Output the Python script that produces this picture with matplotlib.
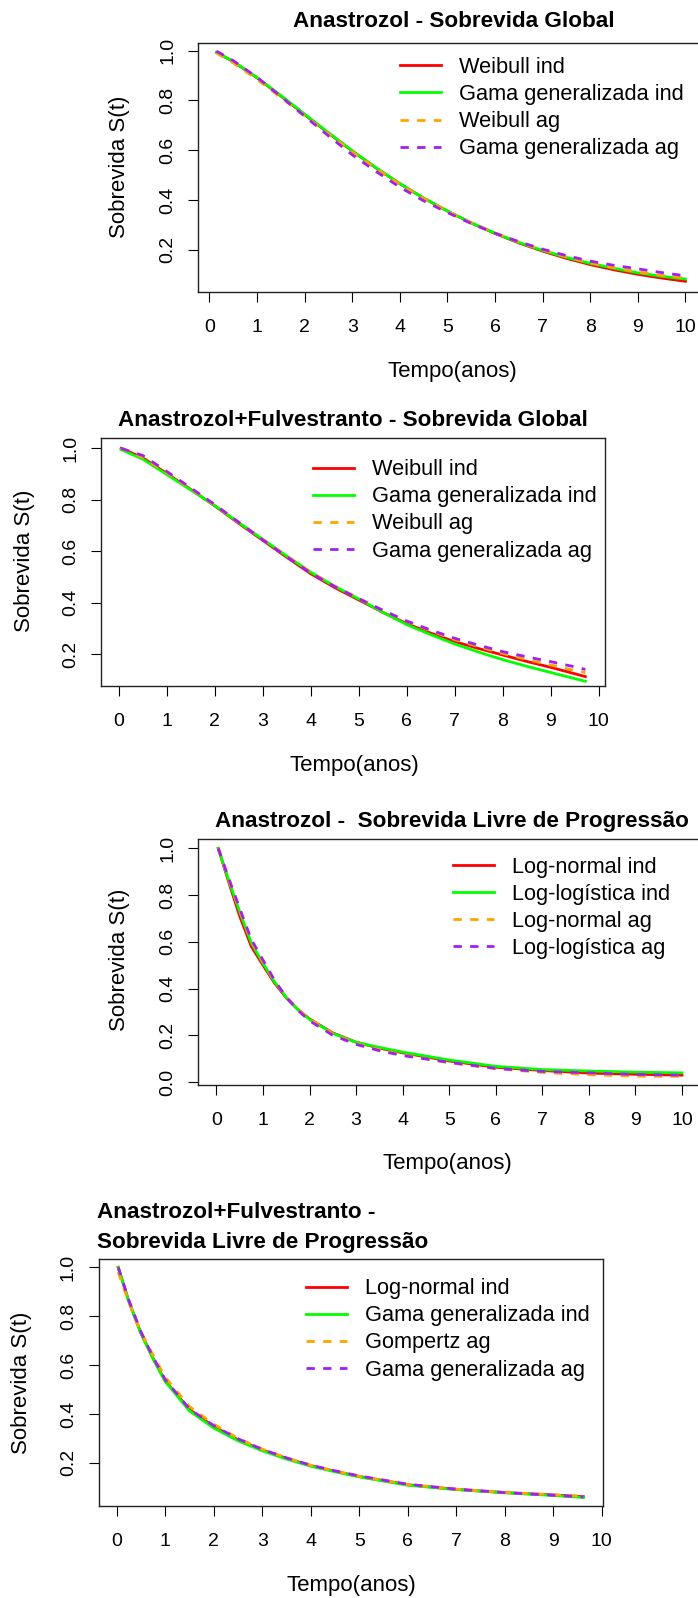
import matplotlib
matplotlib.use("Agg")
import matplotlib.pyplot as plt

plt.rcParams['font.family'] = ['Liberation Sans', 'DejaVu Sans']

# tamanho da figura em pixels
W, H = 698, 1598

# ---- Anastrozol - Sobrevida Global ----
t1 = [0.15, 0.5, 1.0, 1.5, 2.0, 2.5, 3.0, 3.5, 4.0, 4.5, 5.0, 5.5, 6.0, 6.5, 7.0, 7.5, 8.0, 8.5, 9.0, 9.5, 10.0]
weib_ind1 = [0.993, 0.956, 0.891, 0.818, 0.743, 0.669, 0.597, 0.529, 0.466, 0.408, 0.356, 0.308, 0.266, 0.228, 0.195, 0.166, 0.141, 0.120, 0.102, 0.087, 0.074]
gg_ind1 = [0.993, 0.957, 0.892, 0.820, 0.745, 0.671, 0.598, 0.530, 0.466, 0.408, 0.356, 0.309, 0.267, 0.230, 0.198, 0.170, 0.146, 0.126, 0.108, 0.094, 0.083]
weib_ag1 = [0.990, 0.951, 0.885, 0.812, 0.738, 0.665, 0.593, 0.526, 0.463, 0.406, 0.355, 0.309, 0.268, 0.232, 0.200, 0.172, 0.148, 0.128, 0.112, 0.098, 0.087]
gg_ag1 = [0.998, 0.960, 0.893, 0.816, 0.737, 0.658, 0.582, 0.515, 0.452, 0.397, 0.350, 0.306, 0.267, 0.233, 0.203, 0.177, 0.155, 0.138, 0.124, 0.109, 0.096]

# ---- Anastrozol+Fulvestranto - Sobrevida Global ----
t2 = [0.05, 0.5, 1.0, 1.5, 2.0, 2.5, 3.0, 3.5, 4.0, 4.5, 5.0, 5.5, 6.0, 6.5, 7.0, 7.5, 8.0, 8.5, 9.0, 9.5, 9.72]
weib_ind2 = [1.0, 0.963, 0.902, 0.840, 0.776, 0.708, 0.642, 0.576, 0.512, 0.458, 0.410, 0.362, 0.318, 0.281, 0.248, 0.221, 0.196, 0.171, 0.148, 0.123, 0.112]
gg_ind2 = [0.995, 0.958, 0.898, 0.838, 0.777, 0.711, 0.646, 0.581, 0.518, 0.463, 0.414, 0.362, 0.314, 0.275, 0.239, 0.207, 0.178, 0.152, 0.128, 0.104, 0.094]
weib_ag2 = [1.0, 0.965, 0.905, 0.843, 0.779, 0.712, 0.646, 0.581, 0.518, 0.464, 0.417, 0.370, 0.327, 0.290, 0.256, 0.228, 0.202, 0.179, 0.157, 0.136, 0.128]
gg_ag2 = [1.0, 0.972, 0.910, 0.846, 0.781, 0.712, 0.644, 0.578, 0.515, 0.462, 0.415, 0.370, 0.328, 0.293, 0.261, 0.234, 0.209, 0.189, 0.170, 0.150, 0.140]

# ---- Anastrozol - Sobrevida Livre de Progressao ----
t3 = [0.04, 0.25, 0.5, 0.75, 1.0, 1.25, 1.5, 1.75, 2.0, 2.5, 3.0, 3.5, 4.0, 5.0, 6.0, 7.0, 8.0, 9.0, 10.0]
lnorm_ind3 = [1.0, 0.865, 0.710, 0.580, 0.500, 0.423, 0.360, 0.310, 0.270, 0.210, 0.170, 0.145, 0.125, 0.090, 0.063, 0.049, 0.038, 0.033, 0.029]
llog_ind3 = [1.0, 0.872, 0.728, 0.595, 0.508, 0.428, 0.362, 0.310, 0.268, 0.208, 0.170, 0.148, 0.128, 0.094, 0.067, 0.053, 0.047, 0.042, 0.039]
lnorm_ag3 = [1.0, 0.876, 0.735, 0.603, 0.515, 0.432, 0.365, 0.311, 0.270, 0.205, 0.164, 0.138, 0.116, 0.082, 0.057, 0.041, 0.031, 0.025, 0.024]
llog_ag3 = [1.0, 0.880, 0.743, 0.610, 0.522, 0.435, 0.363, 0.307, 0.262, 0.200, 0.161, 0.134, 0.113, 0.084, 0.058, 0.045, 0.039, 0.032, 0.029]

# ---- Anastrozol+Fulvestranto - Sobrevida Livre de Progressao ----
t4 = [0.03, 0.25, 0.5, 0.75, 1.0, 1.5, 2.0, 2.5, 3.0, 3.5, 4.0, 4.5, 5.0, 6.0, 7.0, 8.0, 9.0, 9.62]
lnorm_ind4 = [1.0, 0.860, 0.730, 0.627, 0.535, 0.418, 0.348, 0.294, 0.252, 0.218, 0.188, 0.165, 0.144, 0.110, 0.091, 0.078, 0.068, 0.061]
gg_ind4 = [1.0, 0.860, 0.728, 0.625, 0.532, 0.412, 0.342, 0.290, 0.249, 0.215, 0.186, 0.163, 0.142, 0.108, 0.090, 0.077, 0.066, 0.058]
gomp_ag4 = [0.980, 0.855, 0.735, 0.640, 0.550, 0.430, 0.358, 0.300, 0.256, 0.220, 0.190, 0.166, 0.145, 0.111, 0.092, 0.079, 0.069, 0.063]
gg_ag4 = [1.0, 0.865, 0.735, 0.632, 0.540, 0.420, 0.352, 0.298, 0.255, 0.220, 0.190, 0.167, 0.146, 0.112, 0.092, 0.078, 0.067, 0.060]

legendas1 = ['Weibull ind', 'Gama generalizada ind', 'Weibull ag', 'Gama generalizada ag']
legendas3 = ['Log-normal ind', 'Log-logística ind', 'Log-normal ag', 'Log-logística ag']
legendas4 = ['Log-normal ind', 'Gama generalizada ind', 'Gompertz ag', 'Gama generalizada ag']

cores = ['#FF0000', '#00FF00', '#FFA500', '#A020F0']
tracos = ['-', '-', '--', '--']

xticks = list(range(0, 11))

# posicoes em pixels: caixa (esq, dir, topo, base), limites, titulo, legenda, rotulos
paineis = [
    dict(t=t1, s=[weib_ind1, gg_ind1, weib_ag1, gg_ag1], leg=legendas1,
         box=(198, 704, 42.7, 292), xlim=(-0.24, 10.39), ylim=(0.031, 1.032),
         yticks=[0.2, 0.4, 0.6, 0.8, 1.0],
         titulo='Anastrozol - Sobrevida Global', tpos=(454, 21.7),
         legpos=(400, 65.5), xlab=(452, 371), ylab=(120, 167)),
    dict(t=t2, s=[weib_ind2, gg_ind2, weib_ag2, gg_ag2], leg=legendas1,
         box=(101.5, 604.6, 438.3, 686), xlim=(-0.36, 10.12), ylim=(0.0755, 1.039),
         yticks=[0.2, 0.4, 0.6, 0.8, 1.0],
         titulo='Anastrozol+Fulvestranto - Sobrevida Global', tpos=(352.8, 420),
         legpos=(313, 467.7), xlab=(354, 765.7), ylab=(24.5, 560.8)),
    dict(t=t3, s=[lnorm_ind3, llog_ind3, lnorm_ag3, llog_ag3], leg=legendas3,
         box=(198, 700.6, 839, 1085), xlim=(-0.395, 10.4), ylim=(-0.013, 1.04),
         yticks=[0.0, 0.2, 0.4, 0.6, 0.8, 1.0],
         titulo='Anastrozol -  Sobrevida Livre de Progressão', tpos=(452, 821.7),
         legpos=(453, 865), xlab=(447.5, 1163.3), ylab=(120, 960.3)),
    dict(t=t4, s=[lnorm_ind4, gg_ind4, gomp_ag4, gg_ag4], leg=legendas4,
         box=(98.8, 603.3, 1259, 1506), xlim=(-0.37, 10.03), ylim=(0.023, 1.034),
         yticks=[0.2, 0.4, 0.6, 0.8, 1.0],
         titulo=None, tpos=None,
         legpos=(306, 1286.7), xlab=(351.7, 1586), ylab=(22, 1383)),
]

fig = plt.figure(figsize=(W / 100, H / 100), dpi=100)


def fx(x):
    return x / W


def fy(y):
    return 1 - y / H


for p in paineis:
    esq, dir_, topo, base = p['box']
    ax = fig.add_axes([fx(esq), fy(base), (dir_ - esq) / W, (base - topo) / H])

    linhas = []
    for serie, cor, ls in zip(p['s'], cores, tracos):
        ln, = ax.plot(p['t'], serie, color=cor, linestyle=ls, linewidth=2.0,
                      dashes=(3, 3) if ls == '--' else (None, None))
        linhas.append(ln)

    ax.set_xlim(*p['xlim'])
    ax.set_ylim(*p['ylim'])
    ax.set_xticks(xticks)
    ax.set_yticks(p['yticks'])
    ax.set_yticklabels(['%.1f' % v for v in p['yticks']], rotation=90, va='center')
    ax.tick_params(axis='both', length=7.2, width=0.8, labelsize=14)
    ax.tick_params(axis='x', pad=12.5)
    ax.tick_params(axis='y', pad=8.6)
    for sp in ax.spines.values():
        sp.set_linewidth(1.0)
        sp.set_color('#222222')

    lx, ly = p['legpos']
    ax.legend(linhas, p['leg'], loc='upper left', bbox_to_anchor=(fx(lx), fy(ly - 8.5)),
              bbox_transform=fig.transFigure, frameon=False, borderpad=0,
              borderaxespad=0, handlelength=1.9, handletextpad=0.8,
              labelspacing=0.28, fontsize=15.7)

    if p['titulo']:
        fig.text(fx(p['tpos'][0]), fy(p['tpos'][1]), p['titulo'], ha='center', va='center',
                 fontsize=16.2, fontweight='bold')
    fig.text(fx(p['xlab'][0]), fy(p['xlab'][1]), 'Tempo(anos)', ha='center', va='center', fontsize=16)
    fig.text(fx(p['ylab'][0]), fy(p['ylab'][1]), 'Sobrevida S(t)', ha='center', va='center',
             rotation=90, fontsize=16)

# titulo em duas linhas do ultimo painel
fig.text(fx(97), fy(1212.7), 'Anastrozol+Fulvestranto -', ha='left', va='center', fontsize=16.2, fontweight='bold')
fig.text(fx(97), fy(1242.7), 'Sobrevida Livre de Progressão', ha='left', va='center', fontsize=16.2, fontweight='bold')

fig.savefig('out.png', dpi=100)
